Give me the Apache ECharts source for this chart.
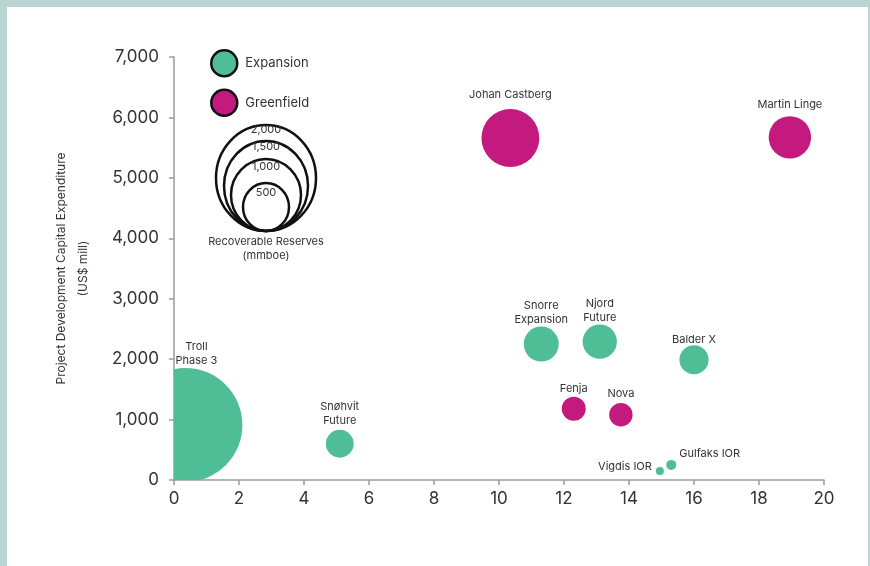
<!DOCTYPE html>
<html>
<head>
<meta charset="utf-8">
<script src="https://cdn.jsdelivr.net/npm/echarts@6/dist/echarts.min.js"></script>
<style>
  html, body { margin: 0; padding: 0; background: #b9d4d1; }
  #panel { position: absolute; left: 7px; top: 7px; width: 861px; height: 559px; background: #fff; }
  #chart { position: absolute; left: 0; top: 0; width: 870px; height: 566px; }
</style>
</head>
<body>
<div id="panel"></div>
<div id="chart"></div>
<script>
// x value, capex (US$ mill), recoverable reserves (mmboe)
const expansionNames = ["Troll\nPhase 3", "Snøhvit\nFuture", "Snorre\nExpansion", "Njord\nFuture", "Balder X", "Vigdis IOR", "Gulfaks IOR"];
const expansionX = [0.35, 5.1, 11.3, 13.1, 16.0, 14.95, 15.3];
const expansionY = [910, 600, 2250, 2290, 1990, 150, 250];
const expansionReserves = [2600, 155, 245, 235, 170, 13, 20];

const greenfieldNames = ["Johan Castberg", "Martin Linge", "Fenja", "Nova"];
const greenfieldX = [10.35, 18.95, 12.3, 13.75];
const greenfieldY = [5660, 5670, 1180, 1080];
const greenfieldReserves = [670, 360, 115, 110];

const sizeLegendValues = ["2,000", "1,500", "1,000", "500"];

const green = "#4fbe97";
const magenta = "#c4197f";

// label placement: default is above the bubble
const labelTweaks = {
  "Troll\nPhase 3": { dx: 11 },
  "Vigdis IOR": { pos: "left", distance: 4, dy: -4 },
  "Gulfaks IOR": { pos: "right", distance: 3, dy: -11 },
  "Johan Castberg": { distance: 7 },
  "Martin Linge": { distance: 4 },
  "Balder X": { distance: -2 },
  "Fenja": { distance: 1 },
  "Nova": { distance: 2 },
  "Snøhvit\nFuture": { distance: 2 }
};

function radius(reserves) {
  return Math.sqrt(reserves / 0.8);
}

function makeRender(names) {
  return function (params, api) {
    const p = api.coord([api.value(0), api.value(1)]);
    const r = radius(api.value(2));
    const cs = params.coordSys;
    const name = names[params.dataIndex];
    const t = labelTweaks[name] || {};
    const d = t.distance !== undefined ? t.distance : 0;
    let tx = p[0] + (t.dx || 0), ty = p[1] - r - d, align = "center", va = "bottom";
    if (t.pos === "left") { tx = p[0] - r - d; ty = p[1] + (t.dy || 0); align = "right"; va = "middle"; }
    if (t.pos === "right") { tx = p[0] + r + d; ty = p[1] + (t.dy || 0); align = "left"; va = "middle"; }
    return {
      type: "group",
      children: [
        {
          type: "circle",
          shape: { cx: p[0], cy: p[1], r: r },
          style: { fill: api.visual("color") },
          clipPath: { type: "rect", shape: { x: cs.x, y: cs.y, width: cs.width, height: cs.height } }
        },
        {
          type: "text", x: tx, y: ty,
          style: { text: name, fontFamily: "Inter", fontSize: 11, lineHeight: 14, fill: "#333", align: align, verticalAlign: va }
        }
      ]
    };
  };
}

function toData(xs, ys, rs) {
  return xs.map((x, i) => [x, ys[i], rs[i]]);
}

const chart = echarts.init(document.getElementById("chart"));

// size legend (nested circles)
const ellipses = [
  { rx: 50, ry: 53 },
  { rx: 42, ry: 45 },
  { rx: 35, ry: 36 },
  { rx: 23, ry: 24 }
];
const labelY = [130, 147, 167, 193];
const sizeGraphics = [];
ellipses.forEach(e => {
  sizeGraphics.push({
    type: "ellipse",
    shape: { cx: 266, cy: 231 - e.ry, rx: e.rx, ry: e.ry },
    style: { fill: "none", stroke: "#111", lineWidth: 2.5 }
  });
});
sizeLegendValues.forEach((t, i) => {
  sizeGraphics.push({
    type: "text",
    x: 266,
    y: labelY[i],
    style: { text: t, fontFamily: "Inter", fontSize: 11, fill: "#333", align: "center", verticalAlign: "middle" }
  });
});
sizeGraphics.push({
  type: "text",
  x: 266,
  y: 249,
  style: { text: "Recoverable Reserves\n(mmboe)", fontFamily: "Inter", fontSize: 11, lineHeight: 14, fill: "#333", align: "center", verticalAlign: "middle" }
});

chart.setOption({
  animation: false,
  grid: { left: 174, right: 46, top: 57, bottom: 86 },
  legend: {
    orient: "vertical",
    left: 205,
    top: 44,
    itemWidth: 26,
    itemHeight: 26,
    itemGap: 11,
    icon: "circle",
    itemStyle: { borderColor: "#111", borderWidth: 2.5 },
    textStyle: { fontFamily: "Inter", fontSize: 13, color: "#333", padding: [0, 0, 0, 3] },
    data: ["Expansion", "Greenfield"]
  },
  graphic: sizeGraphics,
  xAxis: {
    type: "value",
    min: 0,
    max: 20,
    interval: 2,
    splitLine: { show: false },
    axisLine: { lineStyle: { color: "#9a9a9a", width: 1.5 } },
    axisTick: { show: true, length: 5, lineStyle: { color: "#9a9a9a", width: 1.5 } },
    axisLabel: { fontFamily: "Inter", fontSize: 17, color: "#333", margin: 10 }
  },
  yAxis: {
    type: "value",
    min: 0,
    max: 7000,
    interval: 1000,
    splitLine: { show: false },
    axisLine: { show: true, lineStyle: { color: "#9a9a9a", width: 1.5 } },
    axisTick: { show: true, length: 5, lineStyle: { color: "#9a9a9a", width: 1.5 } },
    axisLabel: {
      fontFamily: "Inter", fontSize: 17, color: "#333", margin: 15,
      formatter: v => v.toLocaleString("en-US")
    },
    name: "Project Development Capital Expenditure\n(US$ mill)",
    nameLocation: "middle",
    nameGap: 80,
    nameTextStyle: { fontFamily: "Inter", fontSize: 12, lineHeight: 22, color: "#333" }
  },
  series: [
    {
      name: "Expansion",
      type: "custom",
      clip: false,
      itemStyle: { color: green },
      renderItem: makeRender(expansionNames),
      encode: { x: 0, y: 1 },
      data: toData(expansionX, expansionY, expansionReserves)
    },
    {
      name: "Greenfield",
      type: "custom",
      clip: false,
      itemStyle: { color: magenta },
      renderItem: makeRender(greenfieldNames),
      encode: { x: 0, y: 1 },
      data: toData(greenfieldX, greenfieldY, greenfieldReserves)
    }
  ]
});
</script>
</body>
</html>
